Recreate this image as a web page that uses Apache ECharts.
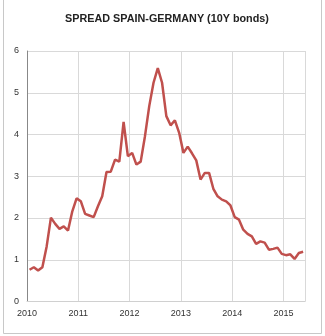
<!DOCTYPE html>
<html>
<head>
<meta charset="utf-8">
<script src="https://cdn.jsdelivr.net/npm/echarts@6/dist/echarts.min.js"></script>
<style>
html,body{margin:0;padding:0;background:#fff;}
#chart{width:325px;height:336px;}
</style>
</head>
<body>
<div id="chart"></div>
<script>
// Monthly spread, Jan 2010 .. May 2015 (percentage points)
const startYear = 2010;
const spread = [
  0.76, 0.82, 0.74, 0.82, 1.32, 2.01, 1.86, 1.74, 1.80, 1.70, 2.16, 2.47,
  2.40, 2.10, 2.06, 2.02, 2.28, 2.52, 3.10, 3.11, 3.40, 3.35, 4.30, 3.48,
  3.56, 3.28, 3.35, 3.96, 4.68, 5.24, 5.59, 5.24, 4.44, 4.22, 4.34, 4.04,
  3.56, 3.71, 3.55, 3.38, 2.92, 3.08, 3.08, 2.70, 2.52, 2.44, 2.40, 2.30,
  2.02, 1.96, 1.72, 1.62, 1.56, 1.38, 1.44, 1.41, 1.24, 1.26, 1.29, 1.14,
  1.11, 1.13, 1.02, 1.16, 1.19
];
const yearTicks = [2010, 2011, 2012, 2013, 2014, 2015];
const titleText = 'SPREAD SPAIN-GERMANY (10Y bonds)';

const points = spread.map((v, i) => [startYear + (i + 0.6) / 12, v]);

const chart = echarts.init(document.getElementById('chart'), null, {renderer: 'canvas'});
chart.setOption({
  animation: false,
  backgroundColor: '#fff',
  title: {
    text: titleText,
    left: 162, top: 9, textAlign: 'center',
    textStyle: {fontFamily: 'Liberation Sans, Arial', fontSize: 10.8, fontWeight: 'bold', color: '#222'}
  },
  grid: {left: 27, top: 51, right: 20, bottom: 34.5, containLabel: false},
  xAxis: {
    type: 'value', min: 2010, max: 2015.42, interval: 1,
    axisLine: {show: true, lineStyle: {color: '#d0d0d0', width: 1}},
    axisTick: {show: false},
    splitLine: {show: true, lineStyle: {color: '#d9d9d9', width: 1}},
    axisLabel: {
      color: '#333', fontFamily: 'Liberation Sans, Arial', fontSize: 9, margin: 8,
      formatter: v => yearTicks.includes(Math.round(v)) && Math.abs(v - Math.round(v)) < 1e-6 ? String(Math.round(v)) : ''
    }
  },
  yAxis: {
    type: 'value', min: 0, max: 6, interval: 1,
    axisLine: {show: true, lineStyle: {color: '#888', width: 1}},
    axisTick: {show: false},
    splitLine: {show: true, lineStyle: {color: '#d9d9d9', width: 1}},
    axisLabel: {color: '#333', fontFamily: 'Liberation Sans, Arial', fontSize: 9, margin: 8}
  },
  series: [{
    type: 'line', data: points, showSymbol: false, smooth: false,
    lineStyle: {color: '#c0504d', width: 2.5},
    z: 5
  }],
  graphic: [{
    type: 'polyline', silent: true,
    shape: {points: [[3.5, 0], [3.5, 333.5], [321.5, 333.5], [321.5, 0]]},
    style: {stroke: '#c8c8c8', lineWidth: 1, fill: null}
  }]
});
</script>
</body>
</html>
